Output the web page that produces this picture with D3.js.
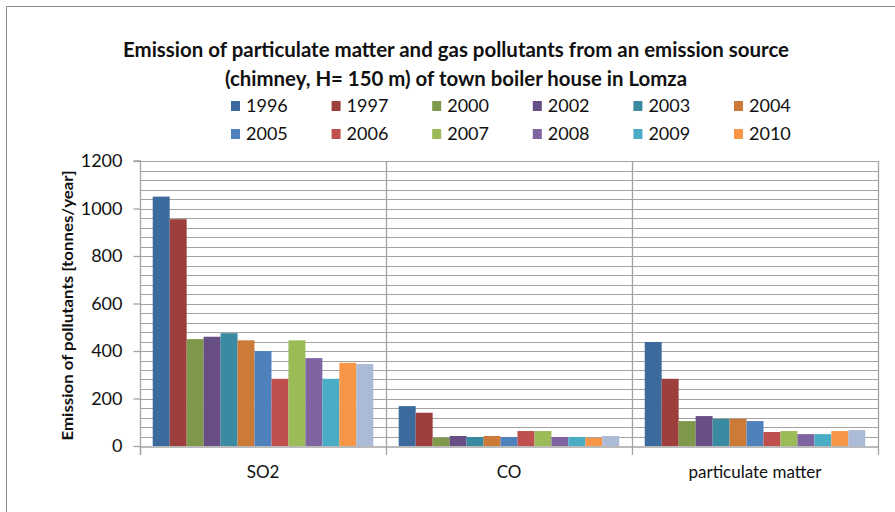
<!DOCTYPE html>
<html>
<head>
<meta charset="utf-8">
<script src="https://cdn.jsdelivr.net/npm/d3@7"></script>
<style>
  html, body { margin: 0; padding: 0; background: #fff; }
  svg { display: block; }
</style>
</head>
<body>
<svg id="chart" width="895" height="512"></svg>
<script>
// Pollutant categories on the x axis
const categories = ["SO2", "CO", "particulate matter"];

// One series per year (the last series has no legend entry)
const seriesLabels = ["1996", "1997", "2000", "2002", "2003", "2004",
                      "2005", "2006", "2007", "2008", "2009", "2010", ""];

// Emission values [tonnes/year], one entry per series
const so2Values = [1050, 955, 450, 460, 475, 445, 400, 283, 445, 370, 283, 350, 345];
const coValues  = [168, 140, 35, 42, 38, 42, 38, 63, 63, 38, 38, 34, 42];
const pmValues  = [438, 283, 105, 126, 114, 114, 105, 59, 63, 50, 50, 63, 67];

const seriesColors = ["#3d6a9c", "#9c3f3d", "#7f994a", "#674e84", "#3a8aa1", "#cc7a38",
                      "#4f81bd", "#c0504d", "#9bbb59", "#8064a2", "#4bacc6", "#f79646", "#aabad7"];

const yTicks = [0, 200, 400, 600, 800, 1000, 1200];
const yMax = 1200;
const minorStep = 40;

const chartTitle = [
  "Emission of particulate matter and gas pollutants from an emission source",
  "(chimney, H= 150 m) of town boiler house in Lomza"
];
const yAxisTitle = "Emission of pollutants [tonnes/year]";

const table = categories.map((c, i) => ({
  category: c,
  values: [so2Values, coValues, pmValues][i]
}));

const FONT = "Lato, 'Open Sans', 'Liberation Sans', sans-serif";
const svg = d3.select("#chart");
const plot = { left: 140, right: 878, top: 161, bottom: 446 };
const gridColor = "#a3a3a3";

// Outer chart frame
svg.append("path")
  .attr("d", "M6.5,512 V6.5 H895")
  .attr("fill", "none")
  .attr("stroke", "#8a8a8a")
  .attr("stroke-width", 1);

const x = d3.scaleBand()
  .domain(categories)
  .range([plot.left, plot.right])
  .paddingInner(0).paddingOuter(0);

const xInner = d3.scaleBand()
  .domain(d3.range(seriesLabels.length))
  .range([0, x.bandwidth()])
  .paddingInner(0)
  .paddingOuter(0.75);

const y = d3.scaleLinear().domain([0, yMax]).range([plot.bottom, plot.top]);

// Horizontal gridlines every 40 units
const gridVals = d3.range(minorStep, yMax + 1, minorStep);
svg.append("g")
  .selectAll("line")
  .data(gridVals)
  .join("line")
  .attr("x1", plot.left).attr("x2", plot.right)
  .attr("y1", d => Math.round(y(d)) + 0.5)
  .attr("y2", d => Math.round(y(d)) + 0.5)
  .attr("stroke", gridColor)
  .attr("stroke-width", 1.1);

// Vertical category separators and right border
const sepX = categories.map(c => x(c) + x.bandwidth());
svg.append("g")
  .selectAll("line")
  .data(sepX)
  .join("line")
  .attr("x1", d => Math.round(d) + 0.5).attr("x2", d => Math.round(d) + 0.5)
  .attr("y1", plot.top).attr("y2", plot.bottom + 9)
  .attr("stroke", gridColor)
  .attr("stroke-width", 1.3);

// Bars
const groups = svg.append("g")
  .selectAll("g")
  .data(table)
  .join("g")
  .attr("transform", d => `translate(${x(d.category)},0)`);

groups.selectAll("rect")
  .data(d => d.values.map((v, i) => ({ v, i })))
  .join("rect")
  .attr("x", d => xInner(d.i))
  .attr("width", xInner.bandwidth())
  .attr("y", d => y(d.v))
  .attr("height", d => y(0) - y(d.v))
  .attr("fill", d => seriesColors[d.i]);

// Y axis
const yAxis = d3.axisLeft(y)
  .tickValues(yTicks)
  .tickSize(7)
  .tickPadding(11)
  .tickFormat(d3.format("d"));

const yg = svg.append("g")
  .attr("transform", `translate(${plot.left + 0.5},0)`)
  .call(yAxis);
yg.select(".domain")
  .attr("d", `M-7,${plot.top}H0V${plot.bottom + 9}`)
  .attr("stroke", gridColor).attr("stroke-width", 1.3);
yg.selectAll(".tick line").attr("stroke", gridColor).attr("stroke-width", 1.3);
yg.selectAll(".tick text")
  .attr("font-family", FONT)
  .attr("font-size", 18)
  .attr("fill", "#111");

// X axis
const xAxis = d3.axisBottom(x).tickSize(0).tickPadding(19);
const xg = svg.append("g")
  .attr("transform", `translate(0,${plot.bottom + 0.5})`)
  .call(xAxis);
xg.select(".domain").attr("stroke", gridColor).attr("stroke-width", 1.3);
xg.selectAll(".tick text")
  .attr("font-family", FONT)
  .attr("font-size", 17)
  .attr("fill", "#111")
  .attr("dy", "0.71em");

// Tick mark at the start of the category axis
svg.append("line")
  .attr("x1", plot.left + 0.5).attr("x2", plot.left + 0.5)
  .attr("y1", plot.bottom).attr("y2", plot.bottom + 9)
  .attr("stroke", gridColor).attr("stroke-width", 1.3);

// Y axis title
svg.append("text")
  .attr("transform", `translate(73,${(plot.top + plot.bottom) / 2 + 2}) rotate(-90)`)
  .attr("text-anchor", "middle")
  .attr("font-family", FONT)
  .attr("font-weight", "bold")
  .attr("font-size", 16)
  .attr("textLength", 270)
  .attr("lengthAdjust", "spacingAndGlyphs")
  .attr("fill", "#111")
  .text(yAxisTitle);

// Chart title
const titleWidths = [666, 462];
svg.append("g")
  .selectAll("text")
  .data(chartTitle)
  .join("text")
  .attr("x", 456)
  .attr("y", (d, i) => 57 + i * 29)
  .attr("text-anchor", "middle")
  .attr("font-family", FONT)
  .attr("font-weight", "bold")
  .attr("font-size", 20)
  .attr("textLength", (d, i) => titleWidths[i])
  .attr("lengthAdjust", "spacingAndGlyphs")
  .attr("fill", "#111")
  .text(d => d);

// Legend: two rows of six entries
const legendItems = seriesLabels
  .map((label, i) => ({ label, color: seriesColors[i] }))
  .filter(d => d.label !== "");
const legend = svg.append("g")
  .selectAll("g")
  .data(legendItems)
  .join("g")
  .attr("transform", (d, i) => `translate(${231 + (i % 6) * 100.6},${101 + Math.floor(i / 6) * 28})`);
legend.append("rect")
  .attr("width", 9).attr("height", 10)
  .attr("fill", d => d.color);
legend.append("text")
  .attr("x", 15)
  .attr("y", 11)
  .attr("font-family", FONT)
  .attr("font-size", 18)
  .attr("fill", "#111")
  .text(d => d.label);
</script>
</body>
</html>
